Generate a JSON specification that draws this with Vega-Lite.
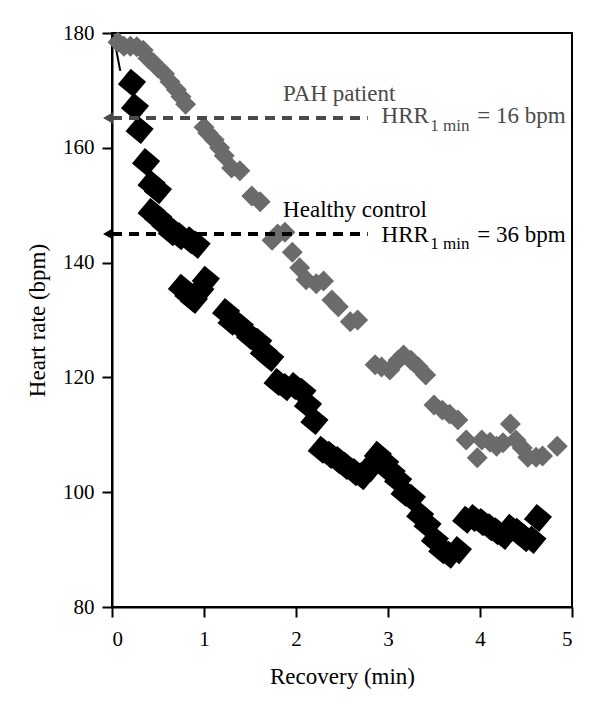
{
  "$schema": "https://vega.github.io/schema/vega-lite/v6.json",
  "autosize": "none",
  "width": 460,
  "height": 574,
  "padding": {"left": 112, "top": 33, "right": 28, "bottom": 108},
  "background": "white",
  "config": {
    "view": {"stroke": "black", "strokeWidth": 2},
    "font": "Liberation Serif, Times New Roman, DejaVu Serif, serif",
    "axis": {
      "grid": false,
      "domainColor": "black",
      "domainWidth": 2,
      "tickColor": "black",
      "tickWidth": 2,
      "tickSize": 10,
      "labelFont": "Liberation Serif, Times New Roman, DejaVu Serif, serif",
      "labelFontSize": 21,
      "labelColor": "black",
      "titleFont": "Liberation Serif, Times New Roman, DejaVu Serif, serif",
      "titleFontSize": 23,
      "titleFontWeight": "normal",
      "titleColor": "black"
    }
  },
  "datasets": {
    "healthy": [
      {"t": 0.217, "hr": 171.3}, {"t": 0.25, "hr": 167.1}, {"t": 0.30, "hr": 163.1}, {"t": 0.37, "hr": 157.5},
      {"t": 0.43, "hr": 153.7}, {"t": 0.50, "hr": 152.6}, {"t": 0.43, "hr": 148.8}, {"t": 0.50, "hr": 147.8},
      {"t": 0.58, "hr": 146.6}, {"t": 0.65, "hr": 145.3}, {"t": 0.74, "hr": 144.6}, {"t": 0.85, "hr": 143.9},
      {"t": 0.92, "hr": 143.1}, {"t": 0.76, "hr": 135.6}, {"t": 0.83, "hr": 134.4}, {"t": 0.89, "hr": 133.5},
      {"t": 0.96, "hr": 135.2}, {"t": 1.02, "hr": 137.0}, {"t": 1.24, "hr": 131.4}, {"t": 1.30, "hr": 129.7},
      {"t": 1.39, "hr": 129.0}, {"t": 1.50, "hr": 127.2}, {"t": 1.59, "hr": 126.2}, {"t": 1.65, "hr": 124.4},
      {"t": 1.72, "hr": 123.4}, {"t": 1.80, "hr": 119.2}, {"t": 1.89, "hr": 118.3}, {"t": 1.98, "hr": 118.5},
      {"t": 2.07, "hr": 117.5}, {"t": 2.13, "hr": 115.2}, {"t": 2.20, "hr": 112.4}, {"t": 2.28, "hr": 107.4},
      {"t": 2.37, "hr": 106.5}, {"t": 2.46, "hr": 105.6}, {"t": 2.54, "hr": 104.6}, {"t": 2.64, "hr": 103.5},
      {"t": 2.72, "hr": 102.8}, {"t": 2.80, "hr": 104.2}, {"t": 2.89, "hr": 106.5}, {"t": 2.97, "hr": 105.1},
      {"t": 3.04, "hr": 103.5}, {"t": 3.11, "hr": 102.1}, {"t": 3.18, "hr": 99.9}, {"t": 3.26, "hr": 99.0},
      {"t": 3.35, "hr": 96.0}, {"t": 3.43, "hr": 94.3}, {"t": 3.51, "hr": 91.7}, {"t": 3.59, "hr": 89.9},
      {"t": 3.67, "hr": 89.1}, {"t": 3.76, "hr": 89.9}, {"t": 3.85, "hr": 95.2}, {"t": 3.93, "hr": 95.5},
      {"t": 4.02, "hr": 94.8}, {"t": 4.11, "hr": 93.9}, {"t": 4.18, "hr": 93.2}, {"t": 4.26, "hr": 92.4},
      {"t": 4.33, "hr": 93.8}, {"t": 4.41, "hr": 93.1}, {"t": 4.49, "hr": 92.0}, {"t": 4.57, "hr": 91.7},
      {"t": 4.63, "hr": 95.5}
    ],
    "pah": [
      {"t": 0.065, "hr": 178.4}, {"t": 0.13, "hr": 177.7}, {"t": 0.20, "hr": 177.7}, {"t": 0.27, "hr": 177.6},
      {"t": 0.34, "hr": 177.0}, {"t": 0.39, "hr": 175.6}, {"t": 0.45, "hr": 174.8}, {"t": 0.50, "hr": 173.9},
      {"t": 0.57, "hr": 172.9}, {"t": 0.63, "hr": 171.5}, {"t": 0.70, "hr": 170.1}, {"t": 0.75, "hr": 168.9},
      {"t": 0.80, "hr": 167.6}, {"t": 1.00, "hr": 163.6}, {"t": 1.04, "hr": 162.6}, {"t": 1.11, "hr": 161.4},
      {"t": 1.17, "hr": 160.0}, {"t": 1.22, "hr": 158.6}, {"t": 1.30, "hr": 156.5}, {"t": 1.39, "hr": 156.0},
      {"t": 1.52, "hr": 151.6}, {"t": 1.61, "hr": 150.6}, {"t": 1.74, "hr": 143.9}, {"t": 1.80, "hr": 145.0},
      {"t": 1.88, "hr": 145.3}, {"t": 1.96, "hr": 141.8}, {"t": 2.04, "hr": 139.1}, {"t": 2.11, "hr": 137.0},
      {"t": 2.22, "hr": 136.3}, {"t": 2.30, "hr": 136.8}, {"t": 2.39, "hr": 133.5}, {"t": 2.46, "hr": 132.3},
      {"t": 2.59, "hr": 129.7}, {"t": 2.67, "hr": 130.0}, {"t": 2.86, "hr": 122.2}, {"t": 2.93, "hr": 121.8},
      {"t": 3.02, "hr": 121.3}, {"t": 3.11, "hr": 123.0}, {"t": 3.17, "hr": 123.9}, {"t": 3.25, "hr": 123.0},
      {"t": 3.33, "hr": 121.8}, {"t": 3.41, "hr": 120.4}, {"t": 3.50, "hr": 115.2}, {"t": 3.59, "hr": 114.3},
      {"t": 3.67, "hr": 113.6}, {"t": 3.76, "hr": 112.6}, {"t": 3.85, "hr": 109.1}, {"t": 3.97, "hr": 106.0},
      {"t": 4.02, "hr": 109.1}, {"t": 4.11, "hr": 108.7}, {"t": 4.18, "hr": 108.0}, {"t": 4.25, "hr": 108.6},
      {"t": 4.33, "hr": 111.9}, {"t": 4.39, "hr": 109.1}, {"t": 4.46, "hr": 107.7}, {"t": 4.52, "hr": 106.1},
      {"t": 4.61, "hr": 106.1}, {"t": 4.68, "hr": 106.3}, {"t": 4.84, "hr": 108.0}
    ],
    "hrr": [
      {"series": "PAH patient", "t": 0, "t2": 2.78, "hr": 165.2},
      {"series": "Healthy control", "t": 0, "t2": 2.78, "hr": 145.0}
    ],
    "peak": [
      {"t": 0.09, "t2": 0.02, "hr": 173.4, "hr2": 179.2}
    ],
    "names": [
      {"series": "PAH patient", "t": 1.86, "hr": 168.2, "label": "PAH patient"},
      {"series": "Healthy control", "t": 1.86, "hr": 147.9, "label": "Healthy control"},
      {"series": "PAH patient", "t": 2.93, "hr": 164.3, "label": "HRR"},
      {"series": "Healthy control", "t": 2.93, "hr": 143.6, "label": "HRR"},
      {"series": "PAH patient", "t": 3.97, "hr": 164.3, "label": "= 16 bpm"},
      {"series": "Healthy control", "t": 3.97, "hr": 143.6, "label": "= 36 bpm"}
    ],
    "subs": [
      {"series": "PAH patient", "t": 3.46, "hr": 162.9, "label": "1 min"},
      {"series": "Healthy control", "t": 3.46, "hr": 142.4, "label": "1 min"}
    ]
  },
  "layer": [
    {
      "data": {"name": "healthy"},
      "mark": {"type": "point", "shape": "square", "angle": 40, "filled": true, "color": "black", "opacity": 1, "size": 400},
      "encoding": {
        "x": {"field": "t", "type": "quantitative", "scale": {"domain": [0, 5], "nice": false, "zero": false},
              "axis": {"title": "Recovery (min)", "values": [0, 1, 2, 3, 4, 5], "format": "d", "labelPadding": 11, "titlePadding": 16}},
        "y": {"field": "hr", "type": "quantitative", "scale": {"domain": [80, 180], "nice": false, "zero": false},
              "axis": {"title": "Heart rate (bpm)", "values": [80, 100, 120, 140, 160, 180], "format": "d", "labelPadding": 8, "titlePadding": 13}}
      }
    },
    {
      "data": {"name": "peak"},
      "mark": {"type": "rule", "color": "black", "strokeWidth": 2, "clip": false},
      "encoding": {
        "x": {"field": "t", "type": "quantitative"},
        "x2": {"field": "t2"},
        "y": {"field": "hr", "type": "quantitative"},
        "y2": {"field": "hr2"}
      }
    },
    {
      "data": {"name": "peak"},
      "mark": {"type": "point", "shape": "triangle-up", "filled": true, "color": "black", "opacity": 1, "size": 90, "clip": false},
      "encoding": {
        "x": {"field": "t2", "type": "quantitative"},
        "y": {"field": "hr2", "type": "quantitative"}
      }
    },
    {
      "data": {"name": "pah"},
      "mark": {"type": "point", "shape": "diamond", "filled": true, "color": "#6b6b6b", "opacity": 1, "size": 440},
      "encoding": {
        "x": {"field": "t", "type": "quantitative"},
        "y": {"field": "hr", "type": "quantitative"}
      }
    },
    {
      "data": {"name": "hrr"},
      "mark": {"type": "rule", "strokeWidth": 4, "strokeDash": [10, 7]},
      "encoding": {
        "x": {"field": "t", "type": "quantitative"},
        "x2": {"field": "t2"},
        "y": {"field": "hr", "type": "quantitative"},
        "color": {"field": "series", "type": "nominal", "scale": {"domain": ["PAH patient", "Healthy control"], "range": ["#4a4a4a", "#000000"]}, "legend": null}
      }
    },
    {
      "data": {"name": "hrr"},
      "mark": {"type": "point", "shape": "triangle-left", "filled": true, "opacity": 1, "size": 130, "clip": false, "xOffset": -4},
      "encoding": {
        "x": {"field": "t", "type": "quantitative"},
        "y": {"field": "hr", "type": "quantitative"},
        "color": {"field": "series", "type": "nominal", "legend": null}
      }
    },
    {
      "data": {"name": "names"},
      "mark": {"type": "text", "align": "left", "baseline": "alphabetic", "font": "Liberation Serif, Times New Roman, DejaVu Serif, serif", "fontSize": 23},
      "encoding": {
        "x": {"field": "t", "type": "quantitative"},
        "y": {"field": "hr", "type": "quantitative"},
        "text": {"field": "label"},
        "color": {"field": "series", "type": "nominal", "legend": null}
      }
    },
    {
      "data": {"name": "subs"},
      "mark": {"type": "text", "align": "left", "baseline": "alphabetic", "font": "Liberation Serif, Times New Roman, DejaVu Serif, serif", "fontSize": 17},
      "encoding": {
        "x": {"field": "t", "type": "quantitative"},
        "y": {"field": "hr", "type": "quantitative"},
        "text": {"field": "label"},
        "color": {"field": "series", "type": "nominal", "legend": null}
      }
    }
  ]
}
